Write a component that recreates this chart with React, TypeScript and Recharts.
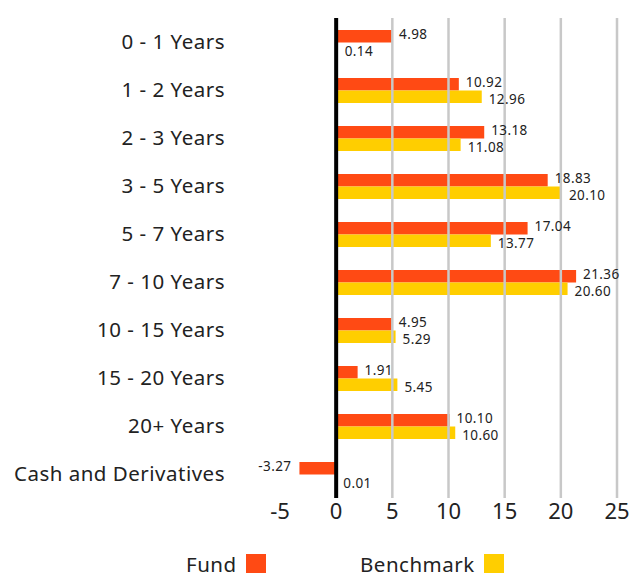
import React from "react";
import {
  BarChart,
  Bar,
  XAxis,
  YAxis,
  ReferenceLine,
  LabelList,
} from "recharts";

const categories = [
  "0 - 1 Years",
  "1 - 2 Years",
  "2 - 3 Years",
  "3 - 5 Years",
  "5 - 7 Years",
  "7 - 10 Years",
  "10 - 15 Years",
  "15 - 20 Years",
  "20+ Years",
  "Cash and Derivatives",
];
const fund = [4.98, 10.92, 13.18, 18.83, 17.04, 21.36, 4.95, 1.91, 10.1, -3.27];
const benchmark = [0.14, 12.96, 11.08, 20.1, 13.77, 20.6, 5.29, 5.45, 10.6, 0.01];
const xTicks = [-5, 0, 5, 10, 15, 20, 25];
const gridTicks = [5, 10, 15, 20, 25];

const FUND_COLOR = "#FF4A14";
const BENCH_COLOR = "#FFCE00";
const FONT = "'Noto Sans', sans-serif";

const data = categories.map((name, i) => ({
  name,
  fund: fund[i],
  benchmark: benchmark[i],
}));

const CategoryTick = (props: any) => {
  const { y, payload } = props;
  return (
    <text
      x={217}
      y={y}
      dy="0.35em"
      textAnchor="end"
      fontSize={20.5}
      letterSpacing={0.5}
      fill="#222"
      fontFamily={FONT}
    >
      {payload.value}
    </text>
  );
};

const XTick = (props: any) => {
  const { x, y, payload } = props;
  return (
    <text
      x={x}
      y={y}
      dy={13}
      textAnchor="middle"
      fontSize={22}
      fill="#222"
      fontFamily={FONT}
    >
      {payload.value}
    </text>
  );
};

const makeLabel = (shift: number) => (props: any) => {
  const { x, y, width, height, value } = props;
  const neg = value < 0;
  const end = x + width;
  const tx = neg ? Math.min(x, end) - 8 : Math.max(x, end) + 7;
  return (
    <text
      x={tx}
      y={y + height / 2 + shift}
      dy="0.35em"
      textAnchor={neg ? "end" : "start"}
      fontSize={13.5}
      letterSpacing={0.4}
      fill="#222"
      fontFamily={FONT}
    >
      {Number(value).toFixed(2)}
    </text>
  );
};
const FundLabel = makeLabel(-2);
const BenchLabel = makeLabel(2.5);

const LegendItem = ({ label, color }: { label: string; color: string }) => (
  <div style={{ display: "flex", alignItems: "flex-end", gap: 9, height: 20 }}>
    <span
      style={{
        fontSize: 20.5,
        lineHeight: "20px",
        letterSpacing: 0.5,
        color: "#222",
        fontFamily: FONT,
      }}
    >
      {label}
    </span>
    <span style={{ width: 20, height: 20, background: color, display: "inline-block" }} />
  </div>
);

export default function App() {
  return (
    <div style={{ position: "relative", width: 628, height: 565, fontFamily: FONT }}>
      <BarChart
        width={628}
        height={520}
        data={data}
        layout="vertical"
        margin={{ top: 10, right: 19, bottom: 0, left: 0 }}
        barGap={0}
        barSize={12.5}
      >
        <XAxis
          type="number"
          domain={[-5, 25]}
          ticks={xTicks}
          axisLine={false}
          tickLine={false}
          height={30}
          tick={<XTick />}
        />
        <YAxis
          type="category"
          dataKey="name"
          width={272}
          axisLine={false}
          tickLine={false}
          tick={<CategoryTick />}
          interval={0}
        />
        {gridTicks.map((t) => (
          <ReferenceLine key={t} x={t} stroke="#c8c8c8" strokeWidth={2.5} />
        ))}
        <Bar dataKey="fund" fill={FUND_COLOR} isAnimationActive={false}>
          <LabelList dataKey="fund" content={<FundLabel />} />
        </Bar>
        <Bar dataKey="benchmark" fill={BENCH_COLOR} isAnimationActive={false}>
          <LabelList dataKey="benchmark" content={<BenchLabel />} />
        </Bar>
        <ReferenceLine x={0} stroke="#000" strokeWidth={4} />
      </BarChart>
      <div style={{ position: "absolute", left: 178, top: 546 }}>
        <LegendItem label="Fund" color={FUND_COLOR} />
      </div>
      <div style={{ position: "absolute", left: 352, top: 546 }}>
        <LegendItem label="Benchmark" color={BENCH_COLOR} />
      </div>
    </div>
  );
}
